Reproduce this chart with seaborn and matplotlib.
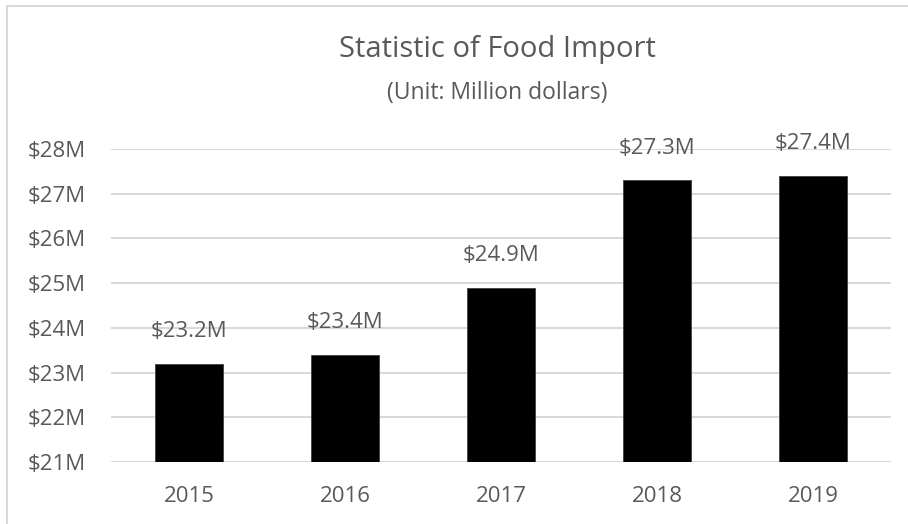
import matplotlib
matplotlib.use("Agg")
import matplotlib.pyplot as plt
from matplotlib.lines import Line2D
import seaborn as sns
import pandas as pd

years = ["2015", "2016", "2017", "2018", "2019"]
values = [23.2, 23.4, 24.9, 27.3, 27.4]
y_ticks = [21, 22, 23, 24, 25, 26, 27, 28]
y_tick_labels = ["$21M", "$22M", "$23M", "$24M", "$25M", "$26M", "$27M", "$28M"]
title = "Statistic of Food Import"
subtitle = "(Unit: Million dollars)"

sns.set_theme(style="white")
plt.rcParams["font.family"] = ["Open Sans", "DejaVu Sans"]

W, H = 908, 524
fig = plt.figure(figsize=(W / 100, H / 100), dpi=100)
ax = fig.add_axes([111 / W, 1 - 462 / H, 780 / W, 313 / H])

df = pd.DataFrame({"year": years, "value": values})
sns.barplot(data=df, x="year", y="value", color="black", width=0.435,
            edgecolor="#404040", linewidth=0.6, ax=ax, zorder=3)

ax.set_ylim(21, 28)
ax.set_xlim(-0.5, 4.5)
ax.set_yticks(y_ticks)
ax.set_yticklabels(y_tick_labels)
ax.yaxis.grid(True, color="#d9d9d9", linewidth=1.5, zorder=0)
ax.set_axisbelow(True)
for s in ax.spines.values():
    s.set_visible(False)
ax.set_xlabel("")
ax.set_ylabel("")
txt = "#595959"
ax.tick_params(axis="both", length=0, colors=txt, labelsize=16)
ax.tick_params(axis="y", pad=18.5)
ax.tick_params(axis="x", pad=17)

for i, v in enumerate(values):
    ax.annotate(f"${v:.1f}M", xy=(i, v), xytext=(0, 23), textcoords="offset points",
                ha="center", va="center", fontsize=16, color=txt, zorder=4)

fig.text(497 / W, 1 - 57 / H, title, ha="center", va="baseline", fontsize=21, color=txt)
fig.text(497 / W, 1 - 99 / H, subtitle, ha="center", va="baseline", fontsize=16.5, color=txt)

fig.add_artist(Line2D([6.5 / W, 6.5 / W], [0, 1 - 5.5 / H], transform=fig.transFigure,
                      color="#d9d9d9", linewidth=1.5))
fig.add_artist(Line2D([6.5 / W, 1], [1 - 5.5 / H, 1 - 5.5 / H], transform=fig.transFigure,
                      color="#d9d9d9", linewidth=1.5))

fig.savefig("out.png", dpi=100, facecolor="white")
